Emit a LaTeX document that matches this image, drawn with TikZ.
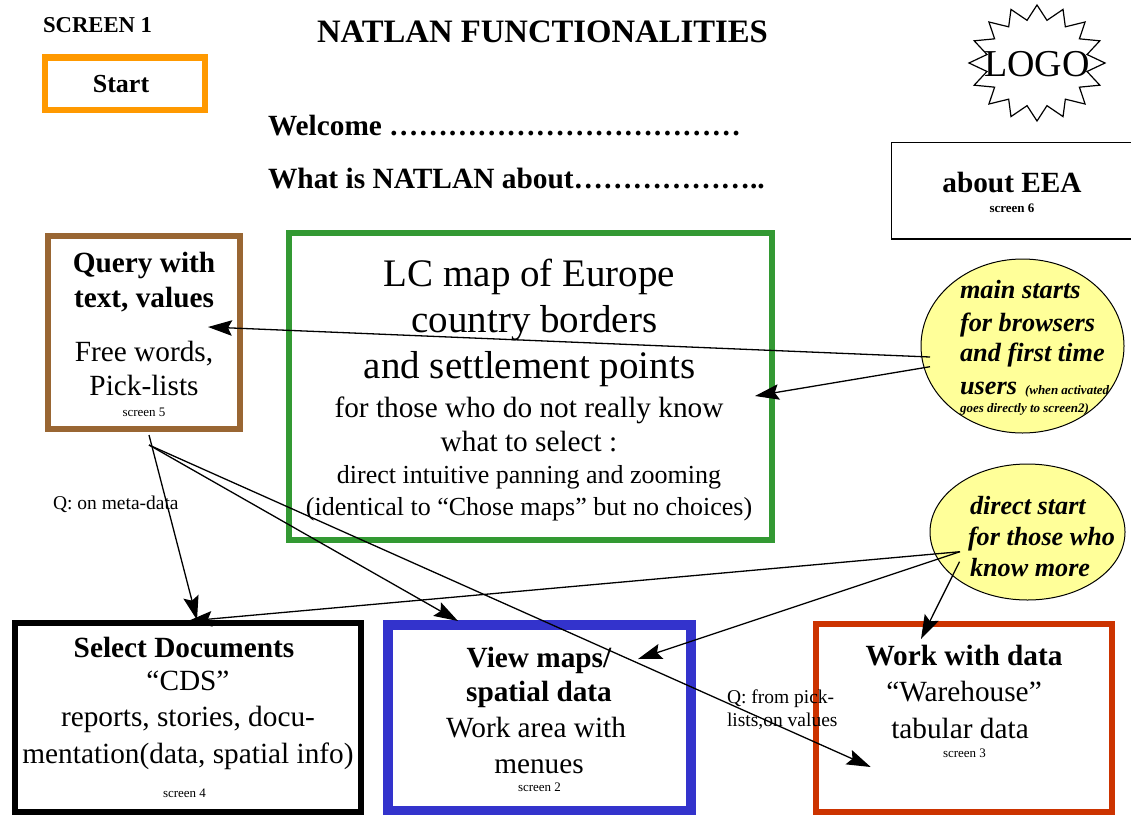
\documentclass[tikz,border=0pt]{standalone}
\usepackage{fontspec}
\setmainfont{Liberation Serif}
\usetikzlibrary{arrows.meta,shapes.geometric}
\definecolor{cOrange}{HTML}{FF9900}
\definecolor{cBrown}{HTML}{996633}
\definecolor{cGreen}{HTML}{339933}
\definecolor{cBlue}{HTML}{3333CC}
\definecolor{cRed}{HTML}{CC3300}
\definecolor{cYellow}{HTML}{FFFF99}
\newcommand{\fs}[1]{\fontsize{#1}{#1}\selectfont}
\tikzset{
  x=1pt,y=-1pt,
  framebox/.style={draw,fill=none,minimum width=0pt},
  line/.style={anchor=base,inner sep=0pt,outer sep=0pt,text=black},
  lineL/.style={anchor=base west,inner sep=0pt,outer sep=0pt,text=black},
  conn/.style={draw=black,line width=1.3pt,-{Stealth[length=24pt,width=15.5pt,inset=4pt]}},
  startell/.style={draw=black,line width=1pt,fill=cYellow},
}
\begin{document}
\begin{tikzpicture}
\useasboundingbox (0,0) rectangle (1131,814);
% frames
\draw[framebox,cOrange,line width=6.3pt] (45,57.5) rectangle (204.7,109.7);
\draw[framebox,black,line width=1.3pt] (891.5,142.5) rectangle (1140,239);
\draw[framebox,cBrown,line width=6.2pt] (48.2,236.3) rectangle (240.3,428.9);
\draw[framebox,cGreen,line width=6.2pt] (289,233) rectangle (772,540);
\draw[framebox,black,line width=6.3pt] (15.2,623.3) rectangle (360.7,812.5);
\draw[framebox,cBlue,line width=9.5pt] (388,625) rectangle (691,810.7);
\draw[framebox,cRed,line width=6.4pt] (816,623.7) rectangle (1112,812.5);
% start ellipses
\node[startell,ellipse,minimum width=203pt,minimum height=174pt,inner sep=0pt] (mainstart) at (1022.5,346) {};
\node[startell,ellipse,minimum width=195pt,minimum height=136pt,inner sep=0pt] (directstart) at (1027.5,532) {};
% star
\draw[line width=1.2pt,line join=miter] plot[samples at={0,1,...,31}] ({1037+(mod(\x,2)==0?68:51)*sin(\x*11.25)},{63+(mod(\x,2)==0?58:43.5)*cos(\x*11.25)}) -- cycle;
% top text
\node[lineL] (screenone) at (43,32) {\fs{22.7}\bfseries SCREEN 1};
\node[line] (title) at (542.5,42) {\fs{32.7}\bfseries NATLAN FUNCTIONALITIES};
\node[line] (logo) at (1037,76) {\fs{38}LOGO};
\node[line] (starttext) at (121,92) {\fs{26}\bfseries Start};
\node[lineL] (welcome) at (268,135) {\fs{29.3}\bfseries Welcome ………………………………};
\node[lineL] (whatis) at (268,188) {\fs{29.4}\bfseries What is NATLAN about………………..};
\node[line] (about) at (1012,192) {\fs{29.3}\bfseries about EEA};
\node[line] (s6) at (1012,212) {\fs{13}\bfseries screen 6};
% query
\node[line] (q1) at (144,272) {\fs{29.3}\bfseries Query with};
\node[line] (q2) at (144,307) {\fs{29.3}\bfseries text, values};
\node[line] (q3) at (144,361) {\fs{29.3}Free words,};
\node[line] (q4) at (144,395) {\fs{29.3}Pick-lists};
\node[line] (s5) at (144,416) {\fs{13}screen 5};
% map
\node[line] (m1) at (529.5,286) {\fs{39}LC map of Europe};
\node[line] (m2) at (534.5,332) {\fs{39}country borders};
\node[line] (m3) at (529.5,378) {\fs{39}and settlement points};
\node[line] (m4) at (529,417) {\fs{29.3}for those who do not really know};
\node[line] (m5) at (529,451) {\fs{29.3}what to select :};
\node[line] (m6) at (529,483) {\fs{26}direct intuitive panning and zooming};
\node[line] (m7) at (529,515) {\fs{26}(identical to “Chose maps” but no choices)};
% main starts text
\node[lineL] (t1) at (960,298) {\fs{26.3}\bfseries\itshape main starts};
\node[lineL] (t2) at (960,331) {\fs{26.3}\bfseries\itshape for browsers};
\node[lineL] (t3) at (960,361) {\fs{26.3}\bfseries\itshape and first time};
\node[lineL] (t4) at (960,394) {\fs{26.3}\bfseries\itshape users\hspace{8pt}\fs{13}(when activated};
\node[lineL] (t5) at (960,412) {\fs{13}\bfseries\itshape goes directly to screen2)};
% direct start text
\node[lineL] (d1) at (970,514) {\fs{26.2}\bfseries\itshape direct start};
\node[lineL] (d2) at (968,545) {\fs{26.2}\bfseries\itshape for those who};
\node[lineL] (d3) at (970,576) {\fs{26.2}\bfseries\itshape know more};
% bottom boxes
\node[line] (b1) at (184,657) {\fs{29.3}\bfseries Select Documents};
\node[line] (b2) at (188,690) {\fs{29.3}“CDS”};
\node[line] (b3) at (188,726) {\fs{29.3}reports, stories, docu-};
\node[line] (b4) at (188,763) {\fs{29.3}mentation(data, spatial info)};
\node[line] (s4) at (184.5,797) {\fs{13}screen 4};
\node[line] (v1) at (539,667) {\fs{29.3}\bfseries View maps/};
\node[line] (v2) at (539,701) {\fs{29.3}\bfseries spatial data};
\node[line] (v3) at (536,737) {\fs{29.3}Work area with};
\node[line] (v4) at (539,773) {\fs{29.3}menues};
\node[line] (s2) at (539.5,791) {\fs{13}screen 2};
\node[line] (w1) at (964,665) {\fs{29.3}\bfseries Work with data};
\node[line] (w2) at (964,701) {\fs{29.3}“Warehouse”};
\node[line] (w3) at (960,738) {\fs{29.3}tabular data};
\node[line] (s3) at (964.5,757) {\fs{13}screen 3};
\node[lineL] (l1) at (53,509) {\fs{19.5}Q: on meta-data};
\node[lineL] (l2) at (727,703) {\fs{19.5}Q: from pick-};
\node[lineL] (l3) at (727,726) {\fs{19.5}lists,on values};
% connector ends
\coordinate (a1s) at (930,357); \coordinate (a1e) at (208,327);
\coordinate (a2s) at (930,366.7); \coordinate (a2e) at (755,396);
\coordinate (a3s) at (149,435); \coordinate (a3e) at (197,620);
\coordinate (a4s) at (960,551.7); \coordinate (a4e) at (188,621);
\coordinate (a5s) at (149,445); \coordinate (a5e) at (458,621);
\coordinate (a6e) at (870.7,767);
\coordinate (a7s) at (960,551.7); \coordinate (a7e) at (638,659);
\coordinate (a8s) at (959.5,561.7); \coordinate (a8e) at (921,639);
\draw[conn] (a1s) -- (a1e);
\draw[conn] (a2s) -- (a2e);
\draw[conn] (a3s) -- (a3e);
\draw[conn] (a4s) -- (a4e);
\draw[conn] (a5s) -- (a5e);
\draw[conn] (a5s) -- (a6e);
\draw[conn] (a7s) -- (a7e);
\draw[conn] (a8s) -- (a8e);
\end{tikzpicture}
\end{document}
